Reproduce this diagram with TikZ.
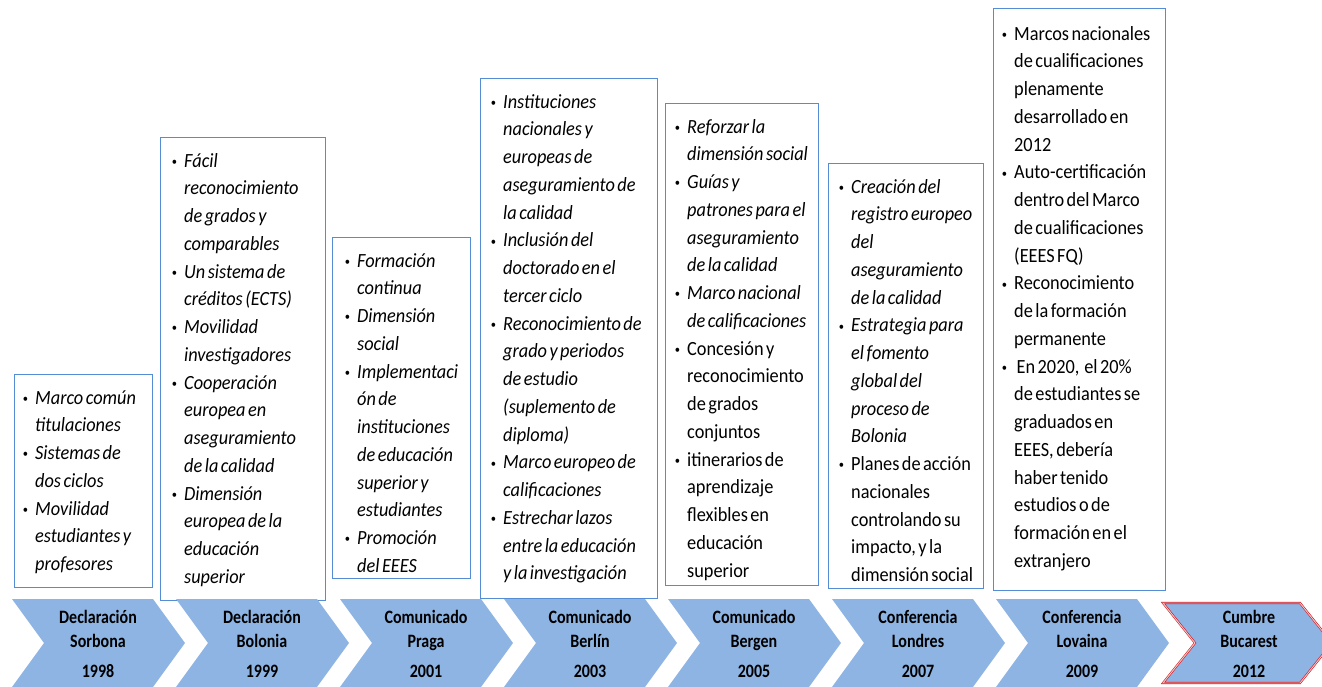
\documentclass[tikz,border=0pt]{standalone}
\usepackage{fontspec}
\usepackage{graphicx}
\setmainfont{Carlito}[WordSpace=0.6]
\definecolor{chev}{RGB}{141,180,226}
\definecolor{boxline}{RGB}{84,141,212}
\definecolor{redline}{RGB}{200,30,40}
\tikzset{
  tbox/.style={draw=boxline, line width=0.8pt, fill=white, anchor=north west, inner sep=0pt, outer sep=0pt},
  btext/.style={anchor=base west, inner sep=0pt},
  chevtext/.style={font=\bfseries\fontsize{16}{16}\selectfont, inner sep=0pt, anchor=base},
  chevfill/.style={fill=chev},
}
\newcommand\bu{\llap{\raisebox{1.5pt}{\fontsize{10.5}{10.5}\selectfont\textbullet}\hspace{7pt}}}
\newcommand\boxtext[1]{\scalebox{1}[1.1]{\fontsize{18.3}{25.23}\selectfont\begin{tabular}[t]{@{}l@{}}#1\end{tabular}}}
\newcommand\ct[1]{\scalebox{1}[1.18]{#1}}
\begin{document}
\begin{tikzpicture}[x=1pt,y=-1pt]
\useasboundingbox (0,0) rectangle (1322,686);
% boxes
\node[tbox, minimum width=138pt, minimum height=213pt] (b1) at (14,374) {};
\node[tbox, minimum width=165pt, minimum height=463pt] (b2) at (160,137) {};
\node[tbox, minimum width=138pt, minimum height=341pt] (b3) at (332,237) {};
\node[tbox, minimum width=177pt, minimum height=520pt] (b4) at (480,78) {};
\node[tbox, minimum width=153pt, minimum height=482pt] (b5) at (665,103) {};
\node[tbox, minimum width=155pt, minimum height=425pt] (b6) at (828,163) {};
\node[tbox, minimum width=172pt, minimum height=582pt] (b7) at (993,8) {};
% texts
\node[btext] (t1) at (35,404) {\boxtext{\bu\textit{Marco común}\\ \textit{titulaciones}\\ \bu\textit{Sistemas de}\\ \textit{dos ciclos}\\ \bu\textit{Movilidad}\\ \textit{estudiantes y}\\ \textit{profesores}}};
\node[btext] (t2) at (184,167) {\boxtext{\bu\textit{Fácil}\\ \textit{reconocimiento}\\ \textit{de grados y}\\ \textit{comparables}\\ \bu\textit{Un sistema de}\\ \textit{créditos (ECTS)}\\ \bu\textit{Movilidad}\\ \textit{investigadores}\\ \bu\textit{Cooperación}\\ \textit{europea en}\\ \textit{aseguramiento}\\ \textit{de la calidad}\\ \bu\textit{Dimensión}\\ \textit{europea de la}\\ \textit{educación}\\ \textit{superior}}};
\node[btext] (t3) at (357,267) {\boxtext{\bu\textit{Formación}\\ \textit{continua}\\ \bu\textit{Dimensión}\\ \textit{social}\\ \bu\textit{Implementaci}\\ \textit{ón de}\\ \textit{instituciones}\\ \textit{de educación}\\ \textit{superior y}\\ \textit{estudiantes}\\ \bu\textit{Promoción}\\ \textit{del EEES}}};
\node[btext] (t4) at (503,108) {\boxtext{\bu\textit{Instituciones}\\ \textit{nacionales y}\\ \textit{europeas de}\\ \textit{aseguramiento de}\\ \textit{la calidad}\\ \bu\textit{Inclusión del}\\ \textit{doctorado en el}\\ \textit{tercer ciclo}\\ \bu\textit{Reconocimiento de}\\ \textit{grado y periodos}\\ \textit{de estudio}\\ \textit{(suplemento de}\\ \textit{diploma)}\\ \bu\textit{Marco europeo de}\\ \textit{calificaciones}\\ \bu\textit{Estrechar lazos}\\ \textit{entre la educación}\\ \textit{y la investigación}}};
\node[btext] (t5) at (687,133) {\boxtext{\bu\textit{Reforzar la}\\ \textit{dimensión social}\\ \bu\textit{Guías y}\\ \textit{patrones para el}\\ \textit{aseguramiento}\\ \textit{de la calidad}\\ \bu\textit{Marco nacional}\\ \textit{de calificaciones}\\ \bu Concesión y\\ reconocimiento\\ de grados\\ conjuntos\\ \bu itinerarios de\\ aprendizaje\\ flexibles en\\ educación\\ superior}};
\node[btext] (t6) at (851,193) {\boxtext{\bu\textit{Creación del}\\ \textit{registro europeo}\\ \textit{del}\\ \textit{aseguramiento}\\ \textit{de la calidad}\\ \bu\textit{Estrategia para}\\ \textit{el fomento}\\ \textit{global del}\\ \textit{proceso de}\\ \textit{Bolonia}\\ \bu Planes de acción\\ nacionales\\ controlando su\\ impacto, y la\\ dimensión social}};
\node[btext] (t7) at (1014,40) {\boxtext{\bu Marcos nacionales\\ de cualificaciones\\ plenamente\\ desarrollado en\\ 2012\\ \bu Auto-certificación\\ dentro del Marco\\ de cualificaciones\\ (EEES FQ)\\ \bu Reconocimiento\\ de la formación\\ permanente\\ \bu\ En 2020,\ \ el 20\%\\ de estudiantes se\\ graduados en\\ EEES, debería\\ haber tenido\\ estudios o de\\ formación en el\\ extranjero}};
% chevrons
\foreach \i/\a/\b/\c in {0/Declaración/Sorbona/1998, 1/Declaración/Bolonia/1999, 2/Comunicado/Praga/2001, 3/Comunicado/Berlín/2003, 4/Comunicado/Bergen/2005, 5/Conferencia/Londres/2007, 6/Conferencia/Lovaina/2009}{
  \pgfmathsetmacro\xx{12+164*\i}
  \fill[chevfill] (\xx,599) -- ++(141,0) -- ++(32,44) -- ++(-32,44) -- ++(-141,0) -- ++(32,-44) -- cycle;
  \node[chevtext] (c\i a) at (\xx+86,623) {\ct{\a}};
  \node[chevtext] (c\i b) at (\xx+86,647) {\ct{\b}};
  \node[chevtext] (c\i c) at (\xx+86,677) {\ct{\c}};
}
\fill[chevfill] (1163,603) -- (1300,603) -- (1332,643) -- (1300,683) -- (1163,683) -- (1195,643) -- cycle;
\draw[draw=redline, line width=0.6pt, double=red!25, double distance=0.9pt, line join=miter] (1163,603) -- (1300,603) -- (1332,643) -- (1300,683) -- (1163,683) -- (1195,643) -- cycle;
\node[chevtext] (c7a) at (1249,623) {\ct{Cumbre}};
\node[chevtext] (c7b) at (1249,647) {\ct{Bucarest}};
\node[chevtext] (c7c) at (1249,677) {\ct{2012}};
\end{tikzpicture}
\end{document}
